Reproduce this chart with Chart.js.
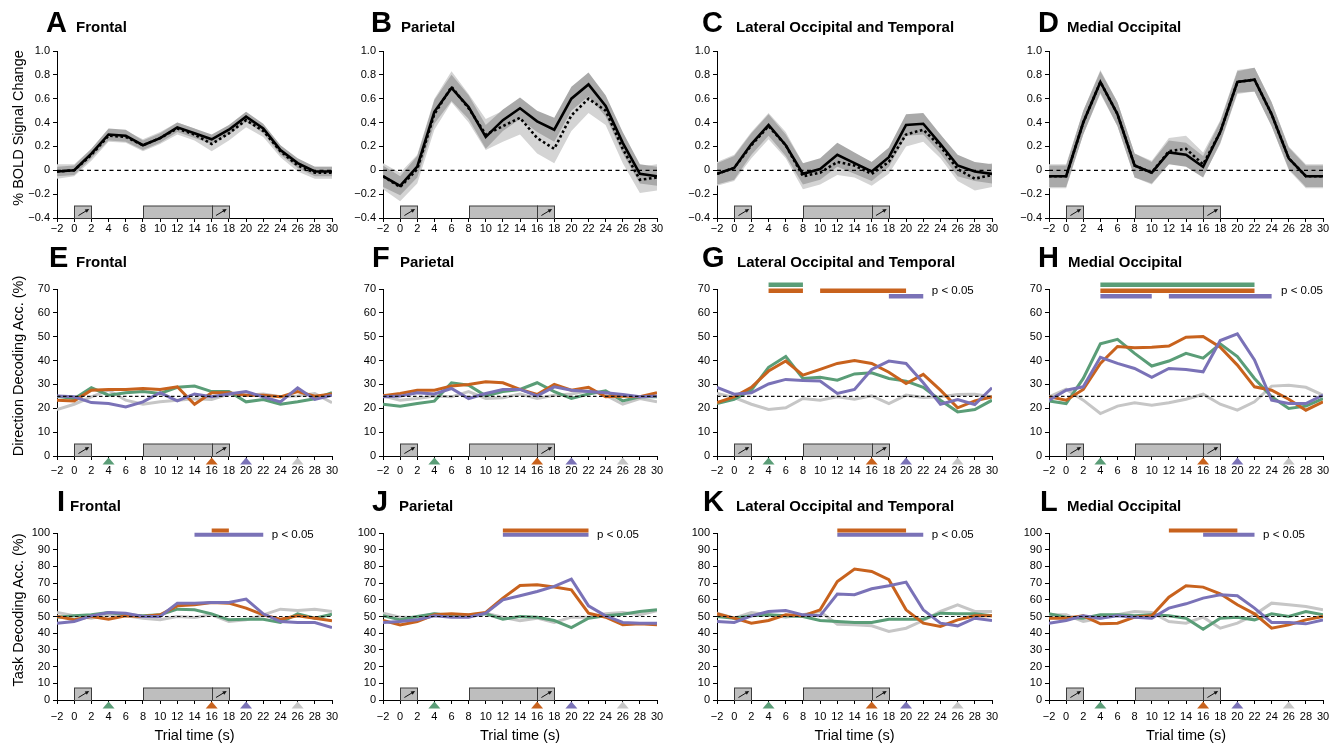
<!DOCTYPE html>
<html>
<head>
<meta charset="utf-8">
<script src="https://cdn.jsdelivr.net/npm/chart.js@4.4.0/dist/chart.umd.min.js"></script>
<style>
  body { margin: 0; background: #fff; width: 1344px; height: 745px; position: relative; overflow: hidden;
         font-family: "Liberation Sans", Arial, sans-serif; color: #000; }
  canvas { position: absolute; }
  .lt { position: absolute; font-weight: bold; font-size: 29px; line-height: 29px; }
  .tt { position: absolute; font-weight: bold; font-size: 15px; line-height: 15px; white-space: nowrap; }
  .yt { position: absolute; font-size: 14.5px; line-height: 15px; white-space: nowrap;
        transform: translate(-50%, -50%) rotate(-90deg); }
  .xt { position: absolute; font-size: 14.5px; line-height: 15px; white-space: nowrap; transform: translateX(-50%); }
</style>
</head>
<body>
<script>
// 時間軸 (s)
const times = [-2, 0, 2, 4, 6, 8, 10, 12, 14, 16, 18, 20, 22, 24, 26, 28, 30];

// 1段目: % BOLD signal change (実線 / 点線 と SEM)
const boldFrontalSolid   = [-0.01, 0, 0.14, 0.30, 0.29, 0.21, 0.27, 0.36, 0.31, 0.26, 0.34, 0.45, 0.35, 0.17, 0.06, -0.01, -0.01];
const boldFrontalDotted  = [-0.01, 0, 0.13, 0.29, 0.28, 0.21, 0.27, 0.35, 0.30, 0.22, 0.31, 0.42, 0.33, 0.16, 0.04, -0.02, -0.02];
const boldFrontalSemS    = [0.04, 0.04, 0.04, 0.05, 0.05, 0.04, 0.04, 0.04, 0.04, 0.04, 0.04, 0.04, 0.04, 0.04, 0.04, 0.04, 0.04];
const boldFrontalSemD    = [0.06, 0.05, 0.05, 0.05, 0.05, 0.05, 0.05, 0.05, 0.05, 0.06, 0.06, 0.06, 0.05, 0.05, 0.05, 0.05, 0.05];

const boldParietalSolid  = [-0.05, -0.13, 0.03, 0.49, 0.69, 0.53, 0.28, 0.42, 0.52, 0.41, 0.34, 0.60, 0.72, 0.54, 0.23, -0.03, -0.05];
const boldParietalDotted = [-0.05, -0.14, 0.01, 0.47, 0.70, 0.52, 0.30, 0.37, 0.44, 0.27, 0.18, 0.46, 0.60, 0.50, 0.18, -0.08, -0.06];
const boldParietalSemS   = [0.09, 0.08, 0.09, 0.10, 0.11, 0.10, 0.10, 0.09, 0.09, 0.09, 0.10, 0.10, 0.10, 0.09, 0.09, 0.08, 0.08];
const boldParietalSemD   = [0.11, 0.12, 0.12, 0.13, 0.13, 0.12, 0.13, 0.13, 0.14, 0.13, 0.12, 0.13, 0.12, 0.12, 0.12, 0.11, 0.11];

const boldLatOccSolid    = [-0.03, 0.02, 0.22, 0.38, 0.21, -0.03, 0.01, 0.13, 0.06, -0.01, 0.11, 0.38, 0.39, 0.22, 0.04, -0.01, -0.03];
const boldLatOccDotted   = [-0.03, 0.02, 0.21, 0.37, 0.21, -0.05, -0.02, 0.07, 0.04, -0.03, 0.07, 0.30, 0.34, 0.20, 0.01, -0.07, -0.04];
const boldLatOccSemS     = [0.09, 0.10, 0.09, 0.09, 0.09, 0.09, 0.09, 0.10, 0.09, 0.08, 0.08, 0.09, 0.09, 0.08, 0.09, 0.08, 0.08];
const boldLatOccSemD     = [0.10, 0.11, 0.11, 0.11, 0.11, 0.11, 0.10, 0.11, 0.10, 0.10, 0.10, 0.10, 0.10, 0.10, 0.10, 0.10, 0.10];

const boldMedOccSolid    = [-0.05, -0.05, 0.40, 0.74, 0.47, 0.04, -0.02, 0.15, 0.13, 0.03, 0.32, 0.74, 0.76, 0.47, 0.10, -0.05, -0.05];
const boldMedOccDotted   = [-0.05, -0.05, 0.40, 0.74, 0.47, 0.04, -0.02, 0.16, 0.18, 0.05, 0.32, 0.74, 0.76, 0.47, 0.10, -0.05, -0.05];
const boldMedOccSemS     = [0.09, 0.09, 0.10, 0.09, 0.10, 0.10, 0.09, 0.10, 0.10, 0.09, 0.09, 0.09, 0.10, 0.10, 0.09, 0.09, 0.09];
const boldMedOccSemD     = [0.10, 0.10, 0.10, 0.10, 0.10, 0.10, 0.10, 0.11, 0.11, 0.10, 0.10, 0.10, 0.10, 0.10, 0.10, 0.10, 0.10];

// 2段目: Direction decoding accuracy (%)
const dirFrontalGreen   = [25.1, 24, 28.6, 25.5, 26.5, 27, 26.2, 28.8, 29.3, 27, 27, 22.7, 23.7, 21.7, 22.7, 24, 26.6];
const dirFrontalOrange  = [23.4, 23.1, 27.6, 27.9, 27.9, 28.3, 27.9, 29, 21.7, 26.5, 26.5, 25.5, 25.5, 24.8, 27, 25.1, 26];
const dirFrontalPurple  = [25.2, 24.8, 22.4, 22, 20.6, 22.7, 26.5, 23.1, 26, 24.8, 26, 27, 24.8, 22.7, 28.6, 23.7, 25.5];
const dirFrontalGray    = [19.5, 21.7, 24.8, 27.6, 23.4, 21.7, 22.7, 23.4, 24, 23.7, 26, 25.5, 26, 24.8, 25.2, 26.2, 22.3];

const dirParietalGreen  = [21.7, 20.9, 22, 23, 30.7, 29.7, 25.2, 27, 27.9, 30.7, 27, 24.1, 26, 27.3, 23.1, 24.8, 24.8];
const dirParietalOrange = [25.2, 26.2, 27.6, 27.6, 29.3, 30, 31.1, 30.7, 27.9, 25.8, 30, 27.6, 28.8, 24.8, 25.2, 24.8, 26.5];
const dirParietalPurple = [24.8, 25.1, 26.5, 26, 28.3, 24.1, 26.2, 27.9, 27.9, 25.2, 29, 27.6, 27, 26.5, 25.8, 24.8, 25.2];
const dirParietalGray   = [25.2, 23.4, 24.1, 25.1, 24.8, 27, 24.1, 24.4, 26, 24.1, 25.5, 26, 27.3, 25.5, 21.7, 24.1, 22.7];

const dirLatOccGreen    = [22, 23.7, 27.6, 37.2, 41.7, 32.5, 33, 31.8, 34.4, 34.9, 32.5, 31.4, 28.8, 23.4, 18.5, 19.5, 23.4];
const dirLatOccOrange   = [22.4, 24.8, 28.8, 35.6, 39.8, 33.9, 36.3, 38.8, 40, 38.8, 35.1, 30.4, 34.2, 27.6, 20.2, 23.1, 24.8];
const dirLatOccPurple   = [28.8, 25.9, 26.5, 30.2, 32.1, 31.6, 31.4, 26.2, 27.9, 36.3, 39.8, 38.8, 30.7, 21.7, 23.7, 21.6, 28.6];
const dirLatOccGray     = [26.2, 24.5, 21.7, 19.5, 20.2, 24.1, 23.4, 24.8, 23.8, 25.2, 22, 25.5, 24.5, 24.8, 25.8, 25.9, 24.8];

const dirMedOccGreen    = [23.1, 22, 32.5, 47, 48.9, 43, 37.7, 39.8, 43, 41, 47, 41.7, 32.5, 24.8, 19.9, 20.9, 24.1];
const dirMedOccOrange   = [24.8, 23.4, 27.9, 38.8, 45.9, 45.4, 45.6, 46.1, 49.8, 50.1, 45.6, 38.1, 29, 27.6, 23.8, 19.2, 22.7];
const dirMedOccPurple   = [23.4, 27.6, 29, 41.4, 38.8, 36.7, 33, 36.7, 36.3, 35.3, 48.4, 51.2, 40.3, 23.4, 22, 22, 25.5];
const dirMedOccGray     = [24.8, 28, 23.4, 17.8, 20.9, 22.3, 21.3, 22.3, 23.8, 25.9, 21.7, 19.2, 22.7, 29.3, 29.7, 28.8, 25.5];

// 3段目: Task decoding accuracy (%)
const taskFrontalGreen   = [49.6, 50.4, 51, 52.4, 51, 50.4, 51, 54.4, 54, 51.6, 48, 48.4, 48.4, 46.4, 51.6, 49, 51.4];
const taskFrontalOrange  = [50, 48, 50, 48.4, 50.4, 50, 51, 56.4, 57, 58.4, 58, 55, 51, 48.4, 50.4, 49, 47.4];
const taskFrontalPurple  = [46, 47, 50.4, 52.4, 52, 50, 50, 58, 58, 58.4, 58.4, 60.4, 51.6, 47, 46.4, 46.4, 43.4];
const taskFrontalGray    = [52.4, 50.4, 49, 51, 50.4, 49, 48, 50, 49.4, 51, 47, 48, 51, 54.4, 53.6, 54.4, 53];

const taskParietalGreen  = [50.4, 48, 50, 51.6, 50.4, 50.4, 51.6, 48.4, 50, 49.6, 47.6, 43.4, 49, 50.4, 51.4, 53, 54];
const taskParietalOrange = [47.6, 45, 47, 51, 51.6, 51, 52.4, 61, 68.6, 69, 67.6, 66, 52, 49.6, 45, 45.6, 45];
const taskParietalPurple = [46.4, 47, 48, 50.4, 49.6, 49.6, 52, 60, 62.4, 65, 68, 72.4, 56.4, 50.4, 46.4, 46, 46];
const taskParietalGray   = [52, 49.6, 49.6, 51.6, 51, 51, 52, 49.6, 47.4, 49, 46.4, 49.6, 49.6, 51.6, 52.4, 51, 53.4];

const taskLatOccGreen    = [50, 49, 50.4, 51, 50.4, 50, 47.6, 47, 46.4, 46.4, 48.4, 48.4, 48.4, 52, 51.6, 51.6, 50.4];
const taskLatOccOrange   = [51.6, 49, 46, 47.6, 51, 50.4, 54, 71, 78.4, 77, 72, 54, 46, 44, 48, 50.4, 50.4];
const taskLatOccPurple   = [47, 46.4, 50.4, 53, 53.6, 51, 50.4, 63.4, 63, 66.6, 68.4, 70.6, 54, 46, 44.4, 49, 47.6];
const taskLatOccGray     = [52, 49, 52.4, 51, 49.6, 51, 53, 45.4, 45, 44.4, 41, 43, 47.6, 53, 57, 53, 53];

const taskMedOccGreen    = [51.6, 49.6, 49, 51, 51, 50.4, 51, 50.4, 49, 42.4, 49, 49.6, 48, 51.6, 50, 53, 51];
const taskMedOccOrange   = [49, 49, 50.4, 45.6, 46, 49.6, 50.4, 61.6, 68.4, 67.6, 63.6, 57, 51.6, 43, 45, 48, 50];
const taskMedOccPurple   = [46, 47.6, 50.4, 49, 50.4, 49.6, 49, 55, 57.6, 61, 63, 62.4, 55, 46.4, 46.4, 45.6, 48];
const taskMedOccGray     = [51, 51, 47, 49, 51, 53, 52.4, 47, 46, 49.6, 43, 46, 51, 58, 57, 56, 54];

// 有意区間 (p < 0.05): [系列, 開始, 終了]
const sigDirLatOcc   = [['green', 4, 8], ['orange', 4, 8], ['orange', 10, 20], ['purple', 18, 22]];
const sigDirMedOcc   = [['green', 4, 22], ['orange', 4, 22], ['purple', 4, 10], ['purple', 12, 24]];
const sigTaskFrontal  = [['orange', 16, 18], ['purple', 14, 22]];
const sigTaskParietal = [['orange', 12, 22], ['purple', 12, 22]];
const sigTaskLatOcc   = [['orange', 12, 20], ['purple', 12, 22]];
const sigTaskMedOcc   = [['orange', 12, 20], ['purple', 16, 22]];
const dirSigLevel  = { green: 71.8, orange: 69.3, purple: 67.0 };
const taskSigLevel = { orange: 101.5, purple: 98.9 };

// 試行イベント
const stimBoxes = [[0, 2], [8, 16], [16, 18]];
const arrowBoxes = [0, 16];
const markerTimes = [4, 16, 20, 26];
const markerSeries = ['green', 'orange', 'purple', 'gray'];

const chanceBold = 0, chanceDir = 25, chanceTask = 50;

const colors = { green: '#5a9d77', orange: '#c8621d', purple: '#7a72b7', gray: '#c6c6c6' };

// レイアウト
const plotLeft = [57, 383, 717, 1049];
const plotRight = [332, 657, 992, 1323];
const plotTop = [51, 289, 533];
const plotBottom = [218, 456, 700];
const titleBase = [32, 267, 511];
const xTickPad = [0, 4, 6];

const pts = (ys) => times.map((t, i) => ({ x: t, y: ys[i] }));
const minusSign = (s) => String(s).replace('-', '\u2212');

const decorPlugin = {
  id: 'decor',
  afterDraw(chart, args, o) {
    const ctx = chart.ctx, xs = chart.scales.x, ys = chart.scales.y, area = chart.chartArea;
    ctx.save();
    const bh = 12.5;
    const yb = Math.round(area.bottom) + 0.5;
    stimBoxes.forEach(([a, b]) => {
      const x0 = Math.round(xs.getPixelForValue(a)) + 0.5;
      const x1 = Math.round(xs.getPixelForValue(b)) + 0.5;
      ctx.fillStyle = '#bebebe';
      ctx.fillRect(x0, yb - bh, x1 - x0, bh);
      ctx.strokeStyle = '#3c3c3c';
      ctx.lineWidth = 1;
      ctx.strokeRect(x0, yb - bh, x1 - x0, bh);
    });
    // 矢印
    arrowBoxes.forEach((a) => {
      const sx = xs.getPixelForValue(a + 0.5), ex = xs.getPixelForValue(a + 1.75);
      const sy = yb - 3, ey = yb - 9.5;
      const ang = Math.atan2(ey - sy, ex - sx);
      ctx.strokeStyle = '#111';
      ctx.lineWidth = 1;
      ctx.beginPath();
      ctx.moveTo(sx, sy);
      ctx.lineTo(ex - 2 * Math.cos(ang), ey - 2 * Math.sin(ang));
      ctx.stroke();
      ctx.fillStyle = '#111';
      ctx.beginPath();
      ctx.moveTo(ex, ey);
      ctx.lineTo(ex - 4.5 * Math.cos(ang - 0.45), ey - 4.5 * Math.sin(ang - 0.45));
      ctx.lineTo(ex - 4.5 * Math.cos(ang + 0.45), ey - 4.5 * Math.sin(ang + 0.45));
      ctx.closePath();
      ctx.fill();
    });
    // イベントマーカー (三角)
    if (o.markers) {
      markerTimes.forEach((t, i) => {
        const cx = xs.getPixelForValue(t);
        ctx.fillStyle = colors[markerSeries[i]];
        ctx.beginPath();
        ctx.moveTo(cx, area.bottom + 1.5);
        ctx.lineTo(cx - 6, area.bottom + 8.5);
        ctx.lineTo(cx + 6, area.bottom + 8.5);
        ctx.closePath();
        ctx.fill();
      });
    }
    if (o.pText) {
      ctx.fillStyle = '#000';
      ctx.font = '11.5px "Liberation Sans", Arial, sans-serif';
      ctx.textAlign = 'left';
      ctx.textBaseline = 'middle';
      ctx.fillText('p < 0.05', xs.getPixelForValue(o.pText.x), ys.getPixelForValue(o.pText.y));
    }
    ctx.restore();
  }
};
Chart.register(decorPlugin);

function addText(cls, text, left, top) {
  const d = document.createElement('div');
  d.className = cls;
  d.textContent = text;
  d.style.left = left + 'px';
  d.style.top = top + 'px';
  document.body.appendChild(d);
}

function makePanel(p) {
  const L = plotLeft[p.col], R = plotRight[p.col], T = plotTop[p.row], B = plotBottom[p.row];
  const padL = 50, padR = 14, padT = 22, padB = 30;
  const cv = document.createElement('canvas');
  cv.width = R - L + padL + padR;
  cv.height = B - T + padT + padB;
  cv.style.left = (L - padL) + 'px';
  cv.style.top = (T - padT) + 'px';
  document.body.appendChild(cv);

  addText('lt', p.letter, p.letterX - 1, titleBase[p.row] - 24.5);
  addText('tt', p.title, p.titleX - 1, titleBase[p.row] - 12.7);

  const datasets = [];
  let yOpts;
  if (p.row === 0) {
    datasets.push({ data: pts(p.solid), borderColor: '#000', borderWidth: 2.6, pointRadius: 0 });
    datasets.push({ data: pts(p.dotted), borderColor: '#000', borderWidth: 2.6, borderDash: [2.6, 2.6], pointRadius: 0 });
    datasets.push({ data: [{ x: -2, y: chanceBold }, { x: 30, y: chanceBold }], borderColor: '#000', borderWidth: 1.3, borderDash: [4, 3.5], pointRadius: 0 });
    datasets.push({ data: times.map((t, i) => ({ x: t, y: p.solid[i] + p.semS[i] })), borderWidth: 0, borderColor: 'rgba(0,0,0,0)', pointRadius: 0, fill: '+1', backgroundColor: '#a9a9a9' });
    datasets.push({ data: times.map((t, i) => ({ x: t, y: p.solid[i] - p.semS[i] })), borderWidth: 0, borderColor: 'rgba(0,0,0,0)', pointRadius: 0, fill: false });
    datasets.push({ data: times.map((t, i) => ({ x: t, y: p.dotted[i] + p.semD[i] })), borderWidth: 0, borderColor: 'rgba(0,0,0,0)', pointRadius: 0, fill: '+1', backgroundColor: '#d4d4d4' });
    datasets.push({ data: times.map((t, i) => ({ x: t, y: p.dotted[i] - p.semD[i] })), borderWidth: 0, borderColor: 'rgba(0,0,0,0)', pointRadius: 0, fill: false });
    yOpts = { min: -0.4, max: 1.0, stepSize: 0.2, fmt: (v) => Math.abs(v) < 1e-9 ? '0' : minusSign(v.toFixed(1)) };
  } else {
    const levels = p.row === 1 ? dirSigLevel : taskSigLevel;
    (p.sig || []).forEach(([s, a, b]) => {
      datasets.push({ data: [{ x: a, y: levels[s] }, { x: b, y: levels[s] }], borderColor: colors[s],
        borderWidth: p.row === 1 ? 4.5 : 4, borderCapStyle: 'butt', pointRadius: 0, clip: false });
    });
    const chance = p.row === 1 ? chanceDir : chanceTask;
    datasets.push({ data: [{ x: -2, y: chance }, { x: 30, y: chance }], borderColor: '#111', borderWidth: 1.1, borderDash: [3.5, 2.5], pointRadius: 0 });
    ['purple', 'orange', 'green', 'gray'].forEach((s) => {
      datasets.push({ data: pts(p.series[s]), borderColor: colors[s], borderWidth: 3, pointRadius: 0 });
    });
    yOpts = p.row === 1 ? { min: 0, max: 70, stepSize: 10, fmt: (v) => String(v) } : { min: 0, max: 100, stepSize: 10, fmt: (v) => String(v) };
  }

  const tickFont = { family: '"Liberation Sans", Arial, sans-serif', size: 11 };
  new Chart(cv, {
    type: 'line',
    data: { datasets },
    options: {
      responsive: false,
      animation: false,
      events: [],
      layout: { padding: { top: padT, right: padR, left: 0, bottom: 0 } },
      elements: { line: { tension: 0 } },
      plugins: {
        legend: { display: false },
        tooltip: { enabled: false },
        decor: { markers: p.row > 0, pText: p.pText || null }
      },
      scales: {
        x: {
          type: 'linear', min: -2, max: 30,
          ticks: { stepSize: 2, color: '#000', font: tickFont, padding: xTickPad[p.row], maxRotation: 0, autoSkip: false,
                   callback: (v) => minusSign(v) },
          grid: { display: true, drawOnChartArea: false, drawTicks: true, tickLength: 4, color: '#000', lineWidth: 1 },
          border: { display: true, color: '#000', width: 1 },
          afterFit: (s) => { s.height = padB; }
        },
        y: {
          min: yOpts.min, max: yOpts.max,
          ticks: { stepSize: yOpts.stepSize, color: '#000', font: tickFont, padding: 3, autoSkip: false,
                   callback: (v) => yOpts.fmt(v) },
          grid: { display: true, drawOnChartArea: false, drawTicks: true, tickLength: 4, color: '#000', lineWidth: 1 },
          border: { display: true, color: '#000', width: 1 },
          afterFit: (s) => { s.width = padL; }
        }
      }
    }
  });
}

const panels = [
  { row: 0, col: 0, letter: 'A', letterX: 47, title: 'Frontal', titleX: 77, solid: boldFrontalSolid, dotted: boldFrontalDotted, semS: boldFrontalSemS, semD: boldFrontalSemD },
  { row: 0, col: 1, letter: 'B', letterX: 372, title: 'Parietal', titleX: 402, solid: boldParietalSolid, dotted: boldParietalDotted, semS: boldParietalSemS, semD: boldParietalSemD },
  { row: 0, col: 2, letter: 'C', letterX: 703, title: 'Lateral Occipital and Temporal', titleX: 737, solid: boldLatOccSolid, dotted: boldLatOccDotted, semS: boldLatOccSemS, semD: boldLatOccSemD },
  { row: 0, col: 3, letter: 'D', letterX: 1039, title: 'Medial Occipital', titleX: 1068, solid: boldMedOccSolid, dotted: boldMedOccDotted, semS: boldMedOccSemS, semD: boldMedOccSemD },
  { row: 1, col: 0, letter: 'E', letterX: 50, title: 'Frontal', titleX: 77,
    series: { green: dirFrontalGreen, orange: dirFrontalOrange, purple: dirFrontalPurple, gray: dirFrontalGray } },
  { row: 1, col: 1, letter: 'F', letterX: 373, title: 'Parietal', titleX: 401,
    series: { green: dirParietalGreen, orange: dirParietalOrange, purple: dirParietalPurple, gray: dirParietalGray } },
  { row: 1, col: 2, letter: 'G', letterX: 703, title: 'Lateral Occipital and Temporal', titleX: 738,
    series: { green: dirLatOccGreen, orange: dirLatOccOrange, purple: dirLatOccPurple, gray: dirLatOccGray },
    sig: sigDirLatOcc, pText: { x: 23, y: dirSigLevel.orange } },
  { row: 1, col: 3, letter: 'H', letterX: 1039, title: 'Medial Occipital', titleX: 1069,
    series: { green: dirMedOccGreen, orange: dirMedOccOrange, purple: dirMedOccPurple, gray: dirMedOccGray },
    sig: sigDirMedOcc, pText: { x: 25.1, y: dirSigLevel.orange } },
  { row: 2, col: 0, letter: 'I', letterX: 58, title: 'Frontal', titleX: 71,
    series: { green: taskFrontalGreen, orange: taskFrontalOrange, purple: taskFrontalPurple, gray: taskFrontalGray },
    sig: sigTaskFrontal, pText: { x: 23, y: taskSigLevel.purple } },
  { row: 2, col: 1, letter: 'J', letterX: 373, title: 'Parietal', titleX: 400,
    series: { green: taskParietalGreen, orange: taskParietalOrange, purple: taskParietalPurple, gray: taskParietalGray },
    sig: sigTaskParietal, pText: { x: 23, y: taskSigLevel.purple } },
  { row: 2, col: 2, letter: 'K', letterX: 704, title: 'Lateral Occipital and Temporal', titleX: 737,
    series: { green: taskLatOccGreen, orange: taskLatOccOrange, purple: taskLatOccPurple, gray: taskLatOccGray },
    sig: sigTaskLatOcc, pText: { x: 23, y: taskSigLevel.purple } },
  { row: 2, col: 3, letter: 'L', letterX: 1041, title: 'Medial Occipital', titleX: 1068,
    series: { green: taskMedOccGreen, orange: taskMedOccOrange, purple: taskMedOccPurple, gray: taskMedOccGray },
    sig: sigTaskMedOcc, pText: { x: 23, y: taskSigLevel.purple } }
];

panels.forEach(makePanel);

// 軸タイトル
addText('yt', '% BOLD Signal Change', 17.5, 128);
addText('yt', 'Direction Decoding Acc. (%)', 17.5, 366);
addText('yt', 'Task Decoding Acc. (%)', 17.5, 610);
plotLeft.forEach((l, c) => addText('xt', 'Trial time (s)', (l + plotRight[c]) / 2, 728));
</script>
</body>
</html>
